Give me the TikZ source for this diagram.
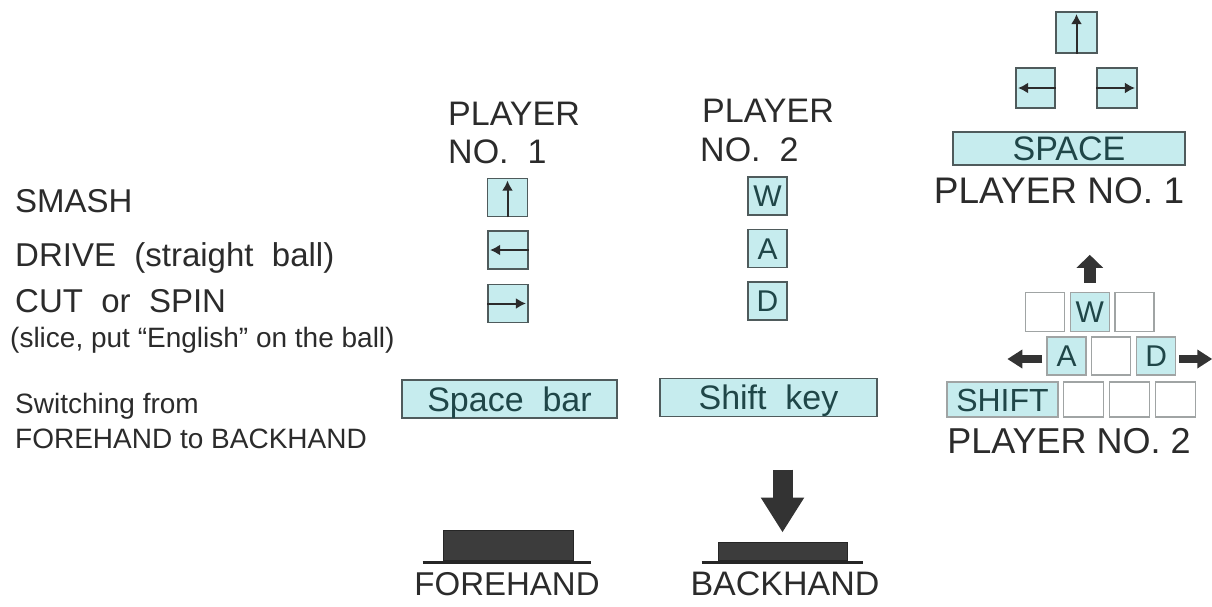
\documentclass[tikz,border=0pt]{standalone}
\usepackage{fontspec}
\setmainfont{Liberation Sans}
\usepackage{tikz}
\usetikzlibrary{positioning,arrows.meta,calc}
\definecolor{keyfill}{HTML}{C6ECEE}
\definecolor{keyline}{HTML}{4F5B5C}
\definecolor{keytext}{HTML}{1F4648}
\definecolor{inkgray}{HTML}{2B2B2B}
\definecolor{blankline}{HTML}{A0A4A4}
\definecolor{padgray}{HTML}{3C3C3C}
\definecolor{arrowgray}{HTML}{333333}
\newcommand{\fsz}[1]{\fontsize{#1}{#1}\selectfont}

\begin{document}
\begin{tikzpicture}[
  x=1pt, y=-1pt,
  txt/.style={inner sep=0pt, anchor=base west, text=inkgray, font=\fsz{33}},
  smalltxt/.style={txt, font=\fsz{28}},
  keybox/.style={draw=keyline, line width=1.8pt, fill=keyfill, inner sep=0pt,
                 minimum width=40pt, minimum height=38pt, text=keytext,
                 font=\fsz{30}, text height=21pt, text depth=0pt},
  barbox/.style={keybox, minimum height=38pt, font=\fsz{34}, text height=24pt},
  blankkey/.style={draw=blankline, line width=1.3pt, fill=white, inner sep=0pt,
                   minimum width=39pt, minimum height=39pt},
  litkey/.style={blankkey, fill=keyfill, text=keytext, font=\fsz{30},
                 text height=21pt, text depth=0pt},
  keyarr/.style={-{Latex[length=10pt,width=11pt]}, line width=2pt, draw=inkgray},
  fatarr/.style={draw=arrowgray, line width=8pt, -{Triangle[length=15pt,width=18pt]}},
  pad/.style={fill=padgray, draw=black!85, line width=1pt, inner sep=0pt},
  padbase/.style={line width=3pt, draw=black!85},
  node distance=4.5pt
]
\useasboundingbox (0,0) rectangle (1212,606);
% ----- left column: actions -----
\node[txt] (smash) at (15,212) {SMASH};
\node[txt] (drive) at (15,266) {DRIVE\ \ (straight\ \ ball)};
\node[txt] (cut) at (15,312) {CUT\ \ or\ \ SPIN};
\node[smalltxt] (slice) at (10,347) {(slice, put “English” on the ball)};
\node[smalltxt] (switch) at (15,413) {Switching from};
\node[smalltxt] (fore2back) at (15,448) {FOREHAND to BACKHAND};
% ----- player headers -----
\node[txt, font=\fsz{34}] (p1head) at (448,125) {PLAYER};
\node[txt, font=\fsz{34}] (p1no) at (448,163) {NO.\ \ 1};
\node[txt, font=\fsz{34}] (p2head) at (702,122) {PLAYER};
\node[txt, font=\fsz{34}] (p2no) at (700,161) {NO.\ \ 2};
% ----- player 1 keys -----
\node[keybox] (p1up) at (507.5,197.5) {};
\node[keybox] (p1left) at (508,250) {};
\node[keybox] (p1right) at (508,303.5) {};
\draw[keyarr] (p1up.south) -- ([yshift=-3pt]p1up.north);
\draw[keyarr] (p1left.east) -- ([xshift=3pt]p1left.west);
\draw[keyarr] (p1right.west) -- ([xshift=-3pt]p1right.east);
% ----- player 2 keys -----
\node[keybox, minimum width=39pt] (p2w) at (767.5,196) {W};
\node[keybox, minimum width=39pt] (p2a) at (767.5,248.5) {A};
\node[keybox, minimum width=39pt] (p2d) at (767.5,301) {D};
% ----- switching keys -----
\node[barbox, minimum width=215pt] (spacebar) at (509.5,399) {Space\ \ bar};
\node[barbox, minimum width=217pt] (shiftkey) at (768.5,397.5) {Shift\ \ key};
% ----- right top: player 1 keyboard -----
\node[keybox, minimum width=41pt, minimum height=41pt] (r1up) at (1076.5,32.5) {};
\node[keybox, minimum width=39pt, minimum height=40pt] (r1left) at (1035.5,88) {};
\node[keybox, minimum width=40pt, minimum height=40pt] (r1right) at (1117,88) {};
\draw[keyarr] (r1up.south) -- ([yshift=-3pt]r1up.north);
\draw[keyarr] (r1left.east) -- ([xshift=3pt]r1left.west);
\draw[keyarr] (r1right.west) -- ([xshift=-3pt]r1right.east);
\node[barbox, minimum width=232pt, minimum height=33pt] (r1space) at (1069,148.5) {SPACE};
\node[txt, anchor=base, font=\fsz{37}] (r1label) at (1059,203) {PLAYER NO. 1};
% ----- right bottom: player 2 keyboard -----
\node[blankkey] (k2q) at (1045,312) {};
\node[litkey, right=of k2q] (k2w) {W};
\node[blankkey, right=of k2w] (k2e) {};
\node[litkey, minimum height=38pt] (k2a) at (1066.5,356) {A};
\node[blankkey, minimum height=38pt, right=of k2a] (k2s) {};
\node[litkey, minimum height=38pt, right=of k2s] (k2d) {D};
\node[litkey, minimum width=111pt, minimum height=35pt, font=\fsz{32}, text height=23pt] (k2shift) at (1002.5,399.5) {SHIFT};
\node[blankkey, minimum width=40pt, minimum height=35pt, right=of k2shift] (k2z) {};
\node[blankkey, minimum width=40pt, minimum height=35pt, right=of k2z] (k2x) {};
\node[blankkey, minimum width=40pt, minimum height=35pt, right=of k2x] (k2c) {};
\node[txt, anchor=base, font=\fsz{36}] (r2label) at (1069,453) {PLAYER NO. 2};
\draw[fatarr, line width=12pt, -{Triangle[length=13pt,width=26pt]}] ([yshift=9pt]k2w.north) -- ([yshift=37pt]k2w.north);
\draw[fatarr] ([xshift=-4pt, yshift=-3pt]k2a.west) -- ([xshift=-39pt, yshift=-3pt]k2a.west);
\draw[fatarr] ([xshift=3pt, yshift=-3pt]k2d.east) -- ([xshift=36pt, yshift=-3pt]k2d.east);
% ----- bottom: racket positions -----
\node[pad, minimum width=130pt, minimum height=30pt] (fhpad) at (508,545) {};
\draw[padbase] ([xshift=-20pt, yshift=-1.5pt]fhpad.south west) -- ([xshift=17pt, yshift=-1.5pt]fhpad.south east);
\node[txt, anchor=base] (fhlabel) at (507,595) {FOREHAND};
\node[pad, minimum width=129pt, minimum height=18pt] (bhpad) at (782.5,551) {};
\draw[padbase] ([xshift=-16pt, yshift=-1.5pt]bhpad.south west) -- ([xshift=15pt, yshift=-1.5pt]bhpad.south east);
\node[txt, anchor=base, font=\fsz{34}] (bhlabel) at (785,595) {BACKHAND};
\draw[fatarr, line width=20pt, -{Triangle[length=35pt,width=41pt]}] ([yshift=72pt]bhpad.north) -- ([yshift=9pt]bhpad.north);
\end{tikzpicture}
\end{document}
